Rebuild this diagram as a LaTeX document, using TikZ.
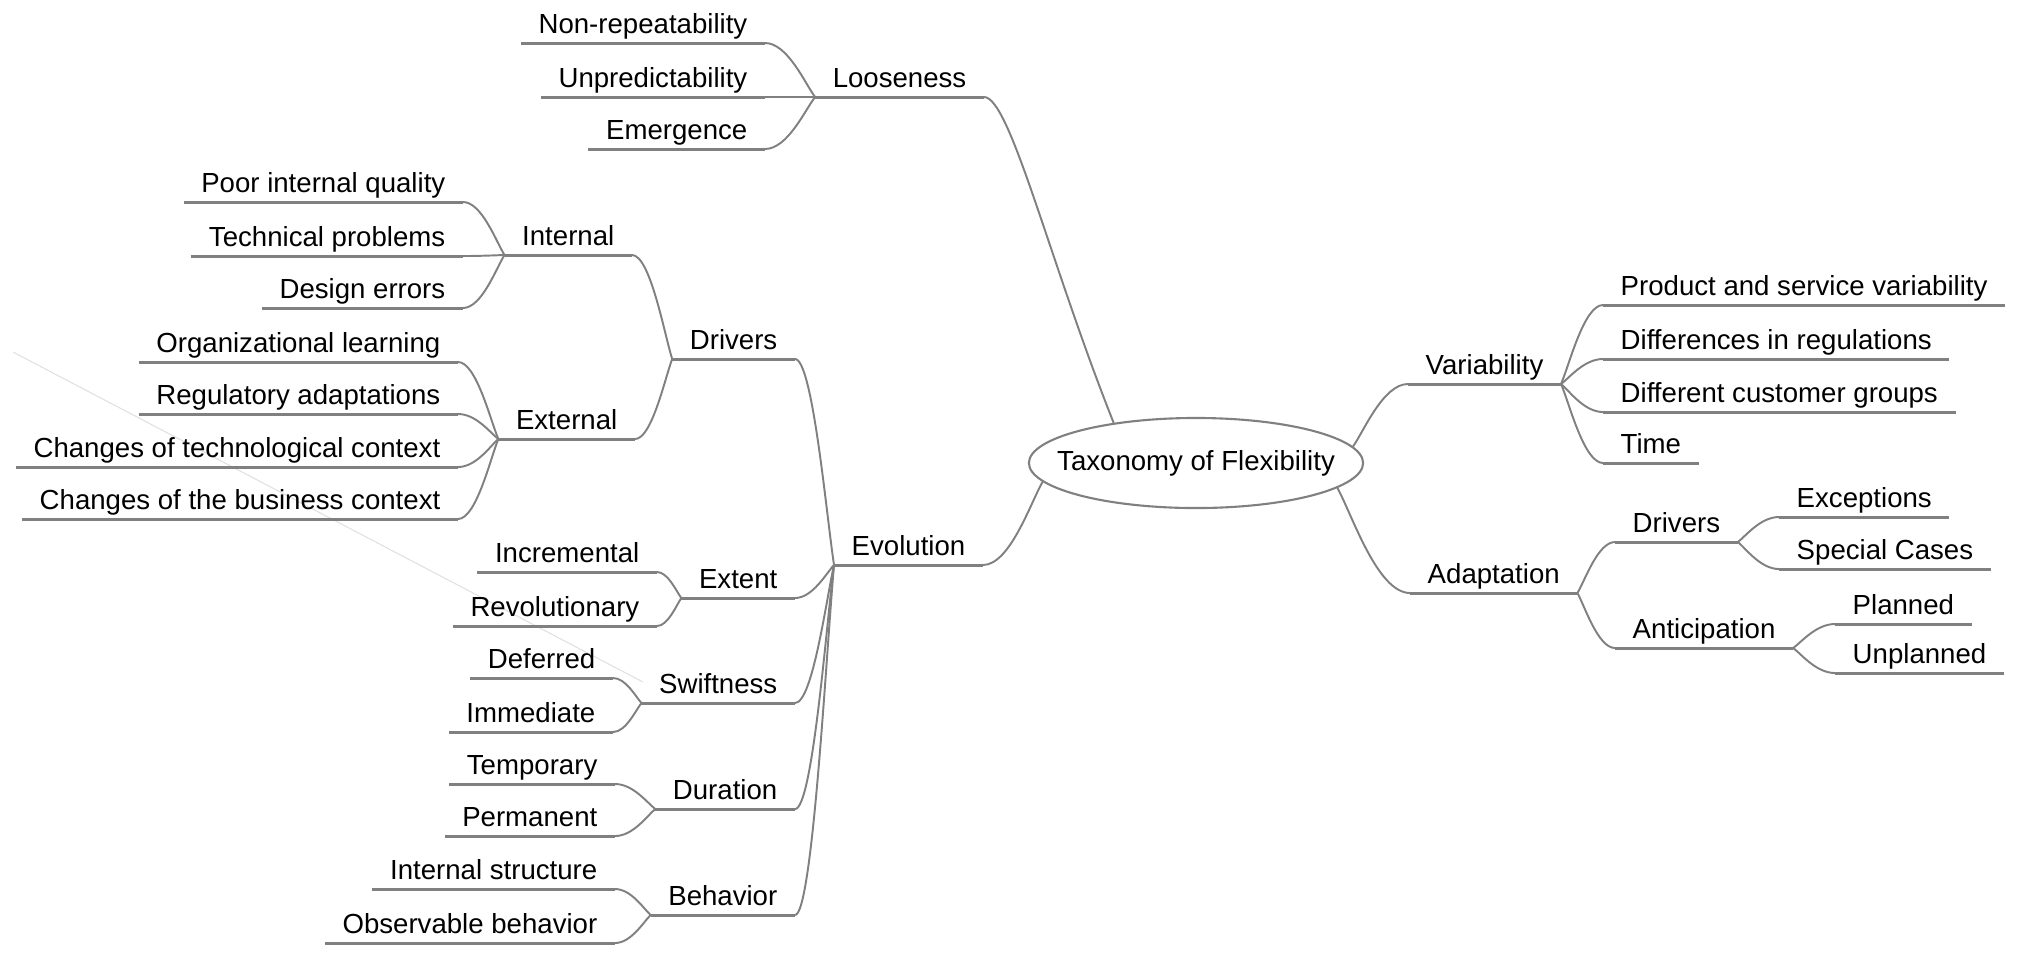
\documentclass[tikz,border=0pt]{standalone}
\usepackage{fontspec}
\setmainfont{Liberation Sans}
\usetikzlibrary{calc}
\usetikzlibrary{shapes.geometric}
\definecolor{linegray}{RGB}{128,128,128}
\tikzset{
  topic/.style={inner xsep=0.17cm, inner ysep=0.09cm, text depth=0pt,
    font=\fontsize{7.85pt}{9.4pt}\selectfont},
  lefttopic/.style={topic, anchor=south east},
  righttopic/.style={topic, anchor=south west},
  uline/.style={draw=linegray, line width=0.85pt},
  branch/.style={draw=linegray, line width=0.55pt, to path={
    let \p1=(\tikztostart), \p2=(\tikztotarget) in
    .. controls ({\x1+0.2*(\x2-\x1)},{\y1+0.25*(\y2-\y1)})
       and ({\x2-0.45*(\x2-\x1)},\y2) .. (\tikztotarget)}},
  trunk/.style={draw=linegray, line width=0.55pt, to path={
    let \p1=(\tikztostart), \p2=(\tikztotarget) in
    .. controls ({0.5*(\x1+\x2)},{0.5*(\y1+\y2)})
       and ({\x2-0.2*(\x2-\x1)},\y2) .. (\tikztotarget)}}
}

\begin{document}
\begin{tikzpicture}[x=0.01cm,y=-0.01cm]
\useasboundingbox (0,0) rectangle (2028,966);
\draw[black!12, line width=0.3pt] (13,352) -- (643,682);

% central topic
\node[draw=linegray, line width=0.6pt, ellipse, minimum width=3.34cm,
  minimum height=0.9cm, inner xsep=-0.22cm, inner ysep=0pt,
  font=\fontsize{7.85pt}{9.4pt}\selectfont]
  (tax) at (1196,463) {Taxonomy of Flexibility};

% left side
\node[lefttopic] (loose) at (984,97) {Looseness};
\node[lefttopic] (nonrep) at (765,43) {Non-repeatability};
\node[lefttopic] (unpred) at (765,97) {Unpredictability};
\node[lefttopic] (emerg) at (765,149) {Emergence};
\node[lefttopic] (evo) at (983,565) {Evolution};
\node[lefttopic] (drv) at (795,359) {Drivers};
\node[lefttopic] (intern) at (632,255) {Internal};
\node[lefttopic] (poor) at (463,202) {Poor internal quality};
\node[lefttopic] (tech) at (463,256) {Technical problems};
\node[lefttopic] (design) at (463,308) {Design errors};
\node[lefttopic] (extern) at (635,439) {External};
\node[lefttopic] (orglearn) at (458,362) {Organizational learning};
\node[lefttopic] (regadapt) at (458,414) {Regulatory adaptations};
\node[lefttopic] (techctx) at (458,467) {Changes of technological context};
\node[lefttopic] (busctx) at (458,519) {Changes of the business context};
\node[lefttopic] (extent) at (795,598) {Extent};
\node[lefttopic] (incr) at (657,572) {Incremental};
\node[lefttopic] (revol) at (657,626) {Revolutionary};
\node[lefttopic] (swift) at (795,703) {Swiftness};
\node[lefttopic] (defer) at (613,678) {Deferred};
\node[lefttopic] (immed) at (613,732) {Immediate};
\node[lefttopic] (durat) at (795,809) {Duration};
\node[lefttopic] (tempo) at (615,784) {Temporary};
\node[lefttopic] (perm) at (615,836) {Permanent};
\node[lefttopic] (behav) at (795,915) {Behavior};
\node[lefttopic] (intstruct) at (615,889) {Internal structure};
\node[lefttopic] (observ) at (615,943) {Observable behavior};

% right side
\node[righttopic] (var) at (1408,384) {Variability};
\node[righttopic] (prodvar) at (1603,305) {Product and service variability};
\node[righttopic] (regdiff) at (1603,359) {Differences in regulations};
\node[righttopic] (custgrp) at (1603,412) {Different customer groups};
\node[righttopic] (time) at (1603,463) {Time};
\node[righttopic] (adapt) at (1410,593) {Adaptation};
\node[righttopic] (adrv) at (1615,542) {Drivers};
\node[righttopic] (exc) at (1779,517) {Exceptions};
\node[righttopic] (spec) at (1779,569) {Special Cases};
\node[righttopic] (antic) at (1615,648) {Anticipation};
\node[righttopic] (plan) at (1835,624) {Planned};
\node[righttopic] (unplan) at (1835,673) {Unplanned};

% underlines
\foreach \nm in {loose,nonrep,unpred,emerg,evo,drv,intern,poor,tech,design,
  extern,orglearn,regadapt,techctx,busctx,extent,incr,revol,swift,defer,immed,
  durat,tempo,perm,behav,intstruct,observ,var,prodvar,regdiff,custgrp,time,
  adapt,adrv,exc,spec,antic,plan,unplan}
\draw[uline] (\nm.south west) -- (\nm.south east);

% connectors
\draw[trunk] (tax.154) to (loose.south east);
\draw[branch] (tax.187) to (evo.south east);
\draw[branch] (tax.6) to (var.south west);
\draw[branch] (tax.350) to (adapt.south west);
\foreach \pa/\ch in {loose/nonrep,loose/unpred,loose/emerg,evo/drv,evo/extent,
  evo/swift,evo/durat,evo/behav,drv/intern,drv/extern,intern/poor,intern/tech,
  intern/design,extern/orglearn,extern/regadapt,extern/techctx,extern/busctx,
  extent/incr,extent/revol,swift/defer,swift/immed,durat/tempo,durat/perm,
  behav/intstruct,behav/observ}
\draw[branch] (\pa.south west) to (\ch.south east);
\foreach \pa/\ch in {var/prodvar,var/regdiff,var/custgrp,var/time,adapt/adrv,
  adapt/antic,adrv/exc,adrv/spec,antic/plan,antic/unplan}
\draw[branch] (\pa.south east) to (\ch.south west);
\end{tikzpicture}
\end{document}
